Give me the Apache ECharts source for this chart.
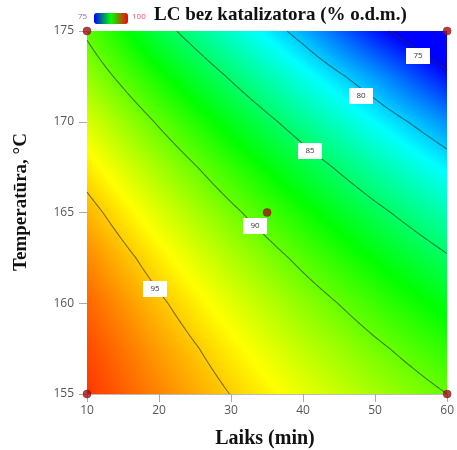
<!DOCTYPE html>
<html>
<head>
<meta charset="utf-8">
<script src="https://cdn.jsdelivr.net/npm/echarts@6/dist/echarts.min.js"></script>
<style>
  html, body { margin: 0; padding: 0; background: #ffffff; }
  #chart { width: 457px; height: 450px; }
</style>
</head>
<body>
<div id="chart"></div>
<script>
// Reaction time (min) and temperature (°C) at which the response surface is tabulated
const timeMin = [10, 20, 30, 40, 50, 60];
const tempC = [155, 157.5, 160, 162.5, 165, 167.5, 170, 172.5, 175];

// LC without catalyst, % o.d.m. — one row per temperature, one column per time
const lcRows = [
  [98.66, 96.77, 94.96, 93.22, 91.57, 90.00],
  [98.20, 96.12, 94.12, 92.20, 90.36, 88.60],
  [97.53, 95.27, 93.08, 90.97, 88.95, 87.00],
  [96.66, 94.21, 91.83, 89.54, 87.33, 85.19],
  [95.58, 92.94, 90.38, 87.90, 85.50, 83.18],
  [94.29, 91.47, 88.72, 86.05, 83.47, 80.96],
  [92.85, 89.79, 86.85, 84.00, 81.23, 78.53],
  [91.20, 87.90, 84.78, 81.74, 78.78, 75.40],
  [89.70, 85.81, 82.50, 79.28, 75.60, 72.50]
];

// contour levels and the (time, temperature) spot where each level's tag sits
const contourLevels = [75, 80, 85, 90, 95];
const levelTagTime = [55.9, 48.0, 41.0, 33.3, 19.4];
const levelTagTemp = [173.65, 171.4, 168.4, 164.26, 160.8];

// experimental design points
const designTime = [10, 10, 35, 60, 60];
const designTemp = [155, 175, 165, 155, 175];

const lcMin = 75;
const lcMax = 100;
// surface shading and the small colour key above the plot
const colourStops = ['#0000ff', '#00ffff', '#00ff00', '#ffff00', '#ff0000'];
const keyStops = ['#0000ff', '#00ff00', '#ff0000'];

const stopRGB = colourStops.map(function (h) {
  return [parseInt(h.slice(1, 3), 16), parseInt(h.slice(3, 5), 16), parseInt(h.slice(5, 7), 16)];
});

function colourOf(v) {
  let s = (v - lcMin) / (lcMax - lcMin);
  s = Math.max(0, Math.min(1, s)) * (stopRGB.length - 1);
  const k = Math.min(Math.floor(s), stopRGB.length - 2);
  const f = s - k;
  const a = stopRGB[k], b = stopRGB[k + 1];
  return [a[0] + (b[0] - a[0]) * f, a[1] + (b[1] - a[1]) * f, a[2] + (b[2] - a[2]) * f];
}

// bilinear reading of the tabulated surface
function lcAt(t, T) {
  let i = 0;
  while (i < timeMin.length - 2 && t > timeMin[i + 1]) i++;
  let j = 0;
  while (j < tempC.length - 2 && T > tempC[j + 1]) j++;
  let fx = (t - timeMin[i]) / (timeMin[i + 1] - timeMin[i]);
  let fy = (T - tempC[j]) / (tempC[j + 1] - tempC[j]);
  fx = Math.max(0, Math.min(1, fx));
  fy = Math.max(0, Math.min(1, fy));
  const a = lcRows[j][i], b = lcRows[j][i + 1], c = lcRows[j + 1][i], d = lcRows[j + 1][i + 1];
  return a * (1 - fx) * (1 - fy) + b * fx * (1 - fy) + c * (1 - fx) * fy + d * fx * fy;
}

// one shaded patch per table cell
const cells = [];
for (let j = 0; j < tempC.length - 1; j++) {
  for (let i = 0; i < timeMin.length - 1; i++) {
    const mean = (lcRows[j][i] + lcRows[j][i + 1] + lcRows[j + 1][i] + lcRows[j + 1][i + 1]) / 4;
    cells.push([timeMin[i], tempC[j], timeMin[i + 1], tempC[j + 1], mean]);
  }
}

function renderCell(params, api) {
  const t0 = api.value(0), T0 = api.value(1), t1 = api.value(2), T1 = api.value(3);
  const pa = api.coord([t0, T1]);
  const pb = api.coord([t1, T0]);
  const x0 = Math.round(pa[0]), y0 = Math.round(pa[1]);
  const x1 = Math.round(pb[0]), y1 = Math.round(pb[1]);
  const w = Math.max(1, x1 - x0), h = Math.max(1, y1 - y0);
  const cv = document.createElement('canvas');
  cv.width = w;
  cv.height = h;
  const ctx = cv.getContext('2d');
  const img = ctx.createImageData(w, h);
  for (let py = 0; py < h; py++) {
    const T = T1 + (y0 + py + 0.5 - pa[1]) / (pb[1] - pa[1]) * (T0 - T1);
    for (let px = 0; px < w; px++) {
      const t = t0 + (x0 + px + 0.5 - pa[0]) / (pb[0] - pa[0]) * (t1 - t0);
      const c = colourOf(lcAt(t, T));
      const o = (py * w + px) * 4;
      img.data[o] = c[0];
      img.data[o + 1] = c[1];
      img.data[o + 2] = c[2];
      img.data[o + 3] = 255;
    }
  }
  ctx.putImageData(img, 0, 0);
  return {
    type: 'image',
    silent: true,
    style: { image: cv, x: x0, y: y0, width: w, height: h }
  };
}

// iso-lines of the surface, traced on a fine sampling of the table
function traceLevel(level) {
  const nx = 200, ny = 160;
  const tA = timeMin[0], tB = timeMin[timeMin.length - 1];
  const TA = tempC[0], TB = tempC[tempC.length - 1];
  const tOf = function (c) { return tA + (tB - tA) * c / nx; };
  const TOf = function (r) { return TA + (TB - TA) * r / ny; };
  const g = [];
  for (let r = 0; r <= ny; r++) {
    const row = [];
    for (let c = 0; c <= nx; c++) row.push(lcAt(tOf(c), TOf(r)));
    g.push(row);
  }
  const pts = [];
  for (let r = 0; r <= ny; r++) {
    for (let c = 0; c <= nx; c++) {
      const a = g[r][c];
      if (c < nx) {
        const b = g[r][c + 1];
        if ((a - level) * (b - level) <= 0 && a !== b) {
          const f = (level - a) / (b - a);
          pts.push([tOf(c + f), TOf(r)]);
        }
      }
      if (r < ny) {
        const b = g[r + 1][c];
        if ((a - level) * (b - level) <= 0 && a !== b) {
          const f = (level - a) / (b - a);
          pts.push([tOf(c), TOf(r + f)]);
        }
      }
    }
  }
  pts.sort(function (p, q) { return p[0] - q[0] || q[1] - p[1]; });
  const out = [];
  pts.forEach(function (p) {
    const last = out[out.length - 1];
    if (!last || Math.abs(last[0] - p[0]) > 1e-7 || Math.abs(last[1] - p[1]) > 1e-7) out.push(p);
  });
  return out;
}

const contourPaths = contourLevels.map(traceLevel);
const contourItems = contourLevels.map(function (lv, k) {
  return [levelTagTime[k], levelTagTemp[k], lv];
});

function renderContour(params, api) {
  const k = params.dataIndex;
  const pts = contourPaths[k].map(function (p) { return api.coord(p); });
  const tag = api.coord([api.value(0), api.value(1)]);
  return {
    type: 'group',
    children: [
      {
        type: 'polyline',
        silent: true,
        shape: { points: pts },
        style: { stroke: 'rgba(35,50,35,0.6)', lineWidth: 1.1, fill: null }
      },
      {
        type: 'rect',
        silent: true,
        shape: { x: Math.round(tag[0]) - 12, y: Math.round(tag[1]) - 8, width: 24, height: 16 },
        style: { fill: '#ffffff' }
      },
      {
        type: 'text',
        silent: true,
        style: {
          text: String(api.value(2)),
          x: Math.round(tag[0]),
          y: Math.round(tag[1]),
          align: 'center',
          verticalAlign: 'middle',
          fontSize: 8,
          fontFamily: 'Open Sans',
          fill: '#333333'
        }
      }
    ]
  };
}

const chart = echarts.init(document.getElementById('chart'), null, { renderer: 'canvas' });

const serifBold = { fontFamily: 'Liberation Serif', fontWeight: 'bold', fill: '#111111' };

chart.setOption({
  animation: false,
  backgroundColor: '#ffffff',
  title: {
    text: 'LC bez katalizatora (% o.d.m.)',
    left: 154,
    top: 6,
    padding: 0,
    textStyle: { fontFamily: 'Liberation Serif', fontWeight: 'bold', fontSize: 19, color: '#111111' }
  },
  grid: { left: 87, right: 7, top: 31, bottom: 56 },
  visualMap: {
    type: 'continuous',
    min: lcMin,
    max: lcMax,
    orient: 'horizontal',
    left: 94,
    top: 13,
    padding: 0,
    itemWidth: 11,
    itemHeight: 34,
    calculable: false,
    hoverLink: false,
    seriesIndex: 0,
    dimension: 4,
    inRange: { color: keyStops }
  },
  xAxis: {
    type: 'value',
    min: 10,
    max: 60,
    interval: 10,
    axisLine: { show: true, lineStyle: { color: '#bbbbbb', width: 1 } },
    axisTick: { show: true, length: 8, lineStyle: { color: '#aaaaaa' } },
    axisLabel: { color: '#555555', fontSize: 12, fontFamily: 'Open Sans', margin: 11 },
    splitLine: { show: false }
  },
  yAxis: {
    type: 'value',
    min: 155,
    max: 175,
    interval: 5,
    axisLine: { show: true, lineStyle: { color: '#bbbbbb', width: 1 } },
    axisTick: { show: true, length: 8, lineStyle: { color: '#aaaaaa' } },
    axisLabel: { color: '#555555', fontSize: 12, fontFamily: 'Open Sans', margin: 13 },
    splitLine: { show: false }
  },
  graphic: [
    {
      type: 'text', left: 78, top: 13,
      style: { text: '75', fontSize: 8, fontFamily: 'Open Sans', fill: '#6f6fd6' }
    },
    {
      type: 'text', left: 132, top: 13,
      style: { text: '100', fontSize: 8, fontFamily: 'Open Sans', fill: '#e8506a' }
    },
    {
      type: 'text', x: 265, y: 439,
      style: Object.assign({ text: 'Laiks (min)', fontSize: 20, align: 'center', verticalAlign: 'middle' }, serifBold)
    },
    {
      type: 'text', x: 21, y: 202, rotation: Math.PI / 2,
      style: Object.assign({ text: 'Temperatūra, °C', fontSize: 19, align: 'center', verticalAlign: 'middle' }, serifBold)
    }
  ],
  series: [
    {
      type: 'custom',
      name: 'surface',
      data: cells,
      encode: { x: [0, 2], y: [1, 3] },
      renderItem: renderCell,
      silent: true,
      z: 1
    },
    {
      type: 'custom',
      name: 'contours',
      data: contourItems,
      encode: { x: 0, y: 1 },
      renderItem: renderContour,
      silent: true,
      z: 3
    },
    {
      type: 'scatter',
      name: 'design points',
      data: designTime.map(function (t, k) { return [t, designTemp[k]]; }),
      symbol: 'circle',
      symbolSize: 8,
      clip: false,
      itemStyle: { color: '#a01212', borderColor: '#7a0a0a', borderWidth: 0.5 },
      silent: true,
      z: 5
    }
  ]
});
</script>
</body>
</html>
